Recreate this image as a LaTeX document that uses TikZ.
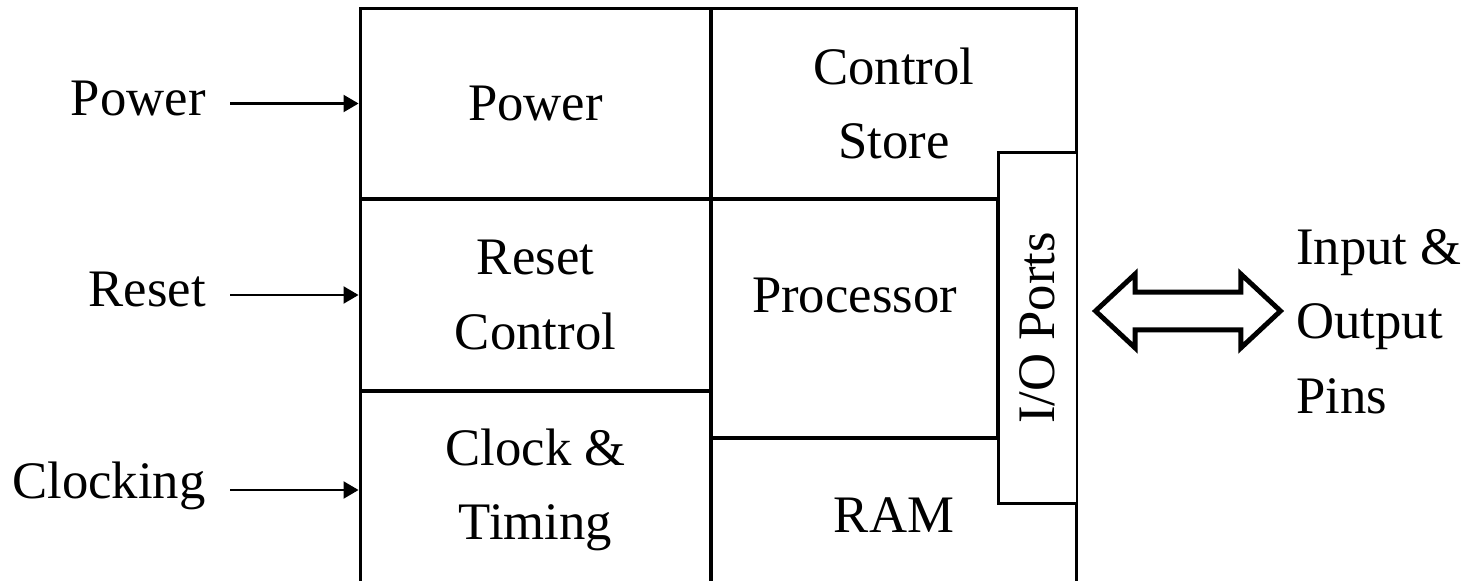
\documentclass[tikz,border=0pt]{standalone}
\usepackage{fontspec}
\setmainfont{Liberation Serif}
\usetikzlibrary{arrows.meta,positioning,shapes.arrows}

\begin{document}
\begin{tikzpicture}[
    % GLOBAL CFG
    x=0.02cm, y=-0.02cm,
    font=\fontsize{30}{42.5}\selectfont,
    >={Triangle[length=0.3cm,width=0.34cm]},
    % Styles
    cell/.style={% For the blocks of the chip
        rectangle,
        draw,
        line width=1.7pt,
        align=center,
        inner sep=0pt,
        },
    ioport/.style={% For the port strip on the right
        rectangle,
        draw,
        fill=white,
        line width=1.7pt,
        minimum width=7.04cm,
        minimum height=1.58cm,
        inner sep=0pt,
        },
    signal/.style={% For the external signals
        anchor=east,
        inner xsep=0.48cm,
        inner ysep=0pt,
        },
    ArrowIn/.style={% Thin arrows into the chip
        ->,
        line width=1.2pt,
        },
    BusArrow/.style={% Big hollow arrow for the pins
        double arrow,
        draw,
        line width=2.8pt,
        minimum height=3.7cm,
        minimum width=1.38cm,
        inner xsep=0pt,
        inner ysep=0.33cm,
        double arrow head extend=0.36cm,
        double arrow tip angle=86,
        },
    ]

    % Page frame, the chip runs off the bottom
    \clip (0,0) rectangle (1472,581);

    % Draw the left column
    \node [cell, minimum width=7.02cm, minimum height=3.82cm] (power) at (535.5,103.5) {Power};
    \node [cell, minimum width=7.02cm, minimum height=3.84cm] (reset) at (535.5,295) {Reset\\Control};
    \node [cell, minimum width=7.02cm, minimum height=3.96cm] (clock) at (535.5,490) {Clock \&\\Timing};

    % Draw the right column
    \node [cell, minimum width=7.32cm, minimum height=3.82cm] (store) at (894,103.5) {Control\\Store};
    \node [cell, minimum width=5.74cm, minimum height=4.78cm] (proc) at (854.5,318.5) {};
    \node (proclbl) at (854.5,295) {Processor};
    \node [cell, minimum width=7.32cm, minimum height=3.08cm] (ram) at (894,515) {RAM};

    % Ports on top of the right edge
    \node [ioport, rotate=90] (io) at (1037.5,328) {I/O Ports};

    % External signals named #in
    \node [signal] (powerin) at (230,98.5) {Power};
    \node [signal] (resetin) at (230,290) {Reset};
    \node [signal] (clockin) at (230,486) {Clocking};

    \draw [ArrowIn] (powerin.east |- power.west) -- (power.west);
    \draw [ArrowIn] (resetin.east |- reset.west) -- (reset.west);
    \draw [ArrowIn] (clockin.east |- clock.west) -- (clock.west);

    % Pins
    \node [BusArrow] (bus) at (1188,311) {};
    \node [anchor=west, align=left, inner sep=0pt] (pins) at (1296,321.5) {Input \&\\Output\\Pins};

\end{tikzpicture}
\end{document}
